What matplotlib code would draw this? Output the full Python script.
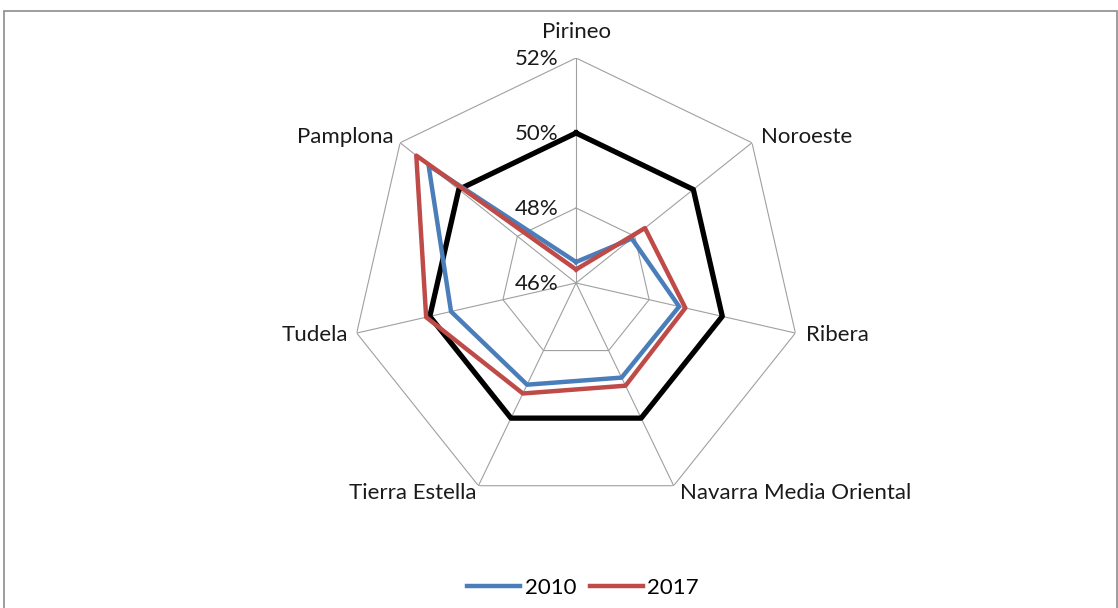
import numpy as np
import matplotlib
matplotlib.use('Agg')
from matplotlib import pyplot as plt
from matplotlib.transforms import offset_copy
from matplotlib.patches import Rectangle

plt.rcParams['font.family'] = ['Lato', 'DejaVu Sans']

# datos (orden horario desde arriba)
comarcas = ['Pirineo', 'Noroeste', 'Ribera', 'Navarra Media Oriental',
            'Tierra Estella', 'Tudela', 'Pamplona']
v2010 = [46.56, 47.90, 48.82, 48.80, 49.01, 49.42, 51.03]
v2017 = [46.36, 48.35, 48.99, 49.04, 49.27, 50.10, 51.45]
ref50 = [50, 50, 50, 50, 50, 50, 50]
r_ticks = [46, 48, 50, 52]
r_labels = ['46%', '48%', '50%', '52%']

n = len(comarcas)
ang = np.linspace(0, 2 * np.pi, n, endpoint=False)
ang_c = np.append(ang, ang[0])


def cerrar(v):
    return np.append(v, v[0])


fig = plt.figure(figsize=(11.18, 6.08), dpi=100)
fig.patches.append(Rectangle((4 / 1118, -0.05), 1113 / 1118, 1.05 - 11 / 608,
                             transform=fig.transFigure, fill=False,
                             edgecolor='#8c8c8c', linewidth=1.2))

ax = fig.add_axes([0.3140, 0.1645, 0.4025, 0.7401], projection='polar')
ax.set_theta_offset(np.pi / 2)
ax.set_theta_direction(-1)
ax.set_ylim(r_ticks[0], r_ticks[-1])
ax.set_xticks(ang)
ax.set_xticklabels([])
ax.set_yticks(r_ticks)
ax.set_yticklabels([])
ax.yaxis.grid(False)
ax.xaxis.grid(True, color='#a0a0a0', linewidth=0.8)
ax.spines['polar'].set_visible(False)
ax.patch.set_visible(False)

# anillos poligonales
for r in r_ticks[1:]:
    ax.plot(ang_c, cerrar(np.full(n, r)), color='#a0a0a0', linewidth=0.8, zorder=1)

ax.plot(ang_c, cerrar(ref50), color='black', linewidth=3.8, label='_nolegend_', zorder=3)
ax.plot(ang_c, cerrar(v2010), color='#4a7ebb', linewidth=3.2, label='2010', zorder=4)
ax.plot(ang_c, cerrar(v2017), color='#be4b48', linewidth=3.2, label='2017', zorder=5)

fs = 16
# etiquetas del eje radial
for r, lab in zip(r_ticks, r_labels):
    tr = offset_copy(ax.transData, fig=fig, x=-18, y=-1, units='dots')
    ax.text(0, r, lab, transform=tr, ha='right', va='center', fontsize=fs, color='#1a1a1a')

# etiquetas de categorias
offs = [(0, 26, 'center'), (9, 6, 'left'), (11, -2, 'left'), (6, -7, 'left'),
        (-2, -7, 'right'), (-9, -2, 'right'), (-7, 6, 'right')]
for a, lab, (dx, dy, ha) in zip(ang, comarcas, offs):
    tr = offset_copy(ax.transData, fig=fig, x=dx, y=dy, units='dots')
    ax.text(a, r_ticks[-1], lab, transform=tr, ha=ha, va='center', fontsize=fs, color='#1a1a1a')

h, l = ax.get_legend_handles_labels()
fig.legend(h, l, loc='center', bbox_to_anchor=(583 / 1118, 20 / 608), ncol=2,
           frameon=False, fontsize=fs, handlelength=2.4, handletextpad=0.2,
           columnspacing=0.6)

fig.savefig('out.png', dpi=100)
